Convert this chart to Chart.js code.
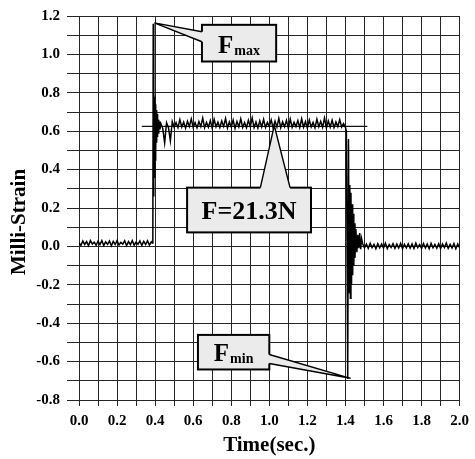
<!DOCTYPE html>
<html><head><meta charset="utf-8">
<script src="https://cdn.jsdelivr.net/npm/chart.js@4/dist/chart.umd.min.js"></script>
<style>html,body{margin:0;padding:0;background:#fff;}#wrap{width:475px;height:459px;}</style>
</head><body><div id="wrap"><canvas id="c" width="475" height="459"></canvas></div>
<script>
// ---- data ----
const xTickLabels = ['0.0','0.2','0.4','0.6','0.8','1.0','1.2','1.4','1.6','1.8','2.0'];
const yTickLabels = ['-0.8','-0.6','-0.4','-0.2','0.0','0.2','0.4','0.6','0.8','1.0','1.2'];

const baseTime = [0.00,0.01,0.02,0.03,0.04,0.05,0.06,0.07,0.08,0.09,0.10,0.11,0.12,0.13,0.14,0.15,0.16,0.17,0.18,0.19,0.20,0.21,0.22,0.23,0.24,0.25,0.26,0.27,0.28,0.29,0.30,0.31,0.32,0.33,0.34,0.35,0.36,0.37,0.38];
const baseStrain = [0.02,0.005,0.028,0.01,0.025,0.004,0.03,0.012,0.022,0.006,0.027,0.009,0.03,0.005,0.024,0.011,0.028,0.003,0.026,0.01,0.03,0.007,0.021,0.012,0.029,0.004,0.025,0.009,0.03,0.006,0.023,0.011,0.028,0.005,0.026,0.01,0.029,0.007,0.024];

const riseTime = [0.385,0.388,0.390,0.392,0.394,0.396,0.398,0.400,0.402,0.404,0.406,0.408,0.410,0.412,0.414,0.416,0.418,0.420,0.422,0.425];
const riseStrain = [0.018,0.02,1.16,0.26,0.82,0.36,0.78,0.45,0.74,0.50,0.71,0.54,0.69,0.57,0.67,0.59,0.66,0.60,0.65,0.61];

const plateauTime = [0.43,0.44,0.45,0.46,0.47,0.48,0.49,0.50,0.51,0.52,0.53,0.54,0.55,0.56,0.57,0.58,0.59,0.60,0.61,0.62,0.63,0.64,0.65,0.66,0.67,0.68,0.69,0.70,0.71,0.72,0.73,0.74,0.75,0.76,0.77,0.78,0.79,0.80,0.81,0.82,0.83,0.84,0.85,0.86,0.87,0.88,0.89,0.90,0.91,0.92,0.93,0.94,0.95,0.96,0.97,0.98,0.99,1.00,1.01,1.02,1.03,1.04,1.05,1.06,1.07,1.08,1.09,1.10,1.11,1.12,1.13,1.14,1.15,1.16,1.17,1.18,1.19,1.20,1.21,1.22,1.23,1.24,1.25,1.26,1.27,1.28,1.29,1.30,1.31,1.32,1.33,1.34,1.35,1.36,1.37,1.38];
const plateauStrain = [0.64,0.615,0.54,0.645,0.62,0.55,0.65,0.62,0.645,0.618,
0.66,0.622,0.648,0.615,0.652,0.625,0.664,0.62,0.645,0.617,
0.65,0.624,0.668,0.618,0.646,0.621,0.655,0.616,0.662,0.623,
0.647,0.619,0.653,0.625,0.666,0.617,0.649,0.622,0.658,0.615,
0.651,0.623,0.664,0.62,0.645,0.618,0.657,0.624,0.669,0.619,
0.648,0.616,0.654,0.622,0.661,0.62,0.646,0.625,0.659,0.617,
0.652,0.621,0.667,0.618,0.649,0.623,0.656,0.615,0.663,0.62,
0.647,0.624,0.655,0.619,0.665,0.621,0.65,0.616,0.658,0.622,
0.646,0.618,0.662,0.623,0.651,0.62,0.668,0.617,0.653,0.621,
0.657,0.619,0.648,0.624,0.66,0.622];

const fallTime = [1.39,1.40,1.405,1.412,1.416,1.420,1.423,1.426,1.429,1.432,1.435,1.438,1.441,1.444,1.447,1.450,1.455,1.460,1.465,1.470,1.475,1.480,1.485];
const fallStrain = [0.64,0.62,0.60,-0.69,0.56,-0.24,0.32,-0.27,0.28,-0.20,0.22,-0.15,0.17,-0.10,0.12,-0.06,0.09,-0.03,0.06,-0.01,0.07,-0.015,0.04];

const tailTime = [1.49,1.50,1.51,1.52,1.53,1.54,1.55,1.56,1.57,1.58,1.59,1.60,1.61,1.62,1.63,1.64,1.65,1.66,1.67,1.68,1.69,1.70,1.71,1.72,1.73,1.74,1.75,1.76,1.77,1.78,1.79,1.80,1.81,1.82,1.83,1.84,1.85,1.86,1.87,1.88,1.89,1.90,1.91,1.92,1.93,1.94,1.95,1.96,1.97,1.98,1.99,2.00];
const tailStrain = [0.015,-0.008,0.012,-0.01,0.016,-0.006,0.011,-0.012,0.014,-0.007,
0.013,-0.009,0.017,-0.011,0.01,-0.006,0.015,-0.01,0.012,-0.008,
0.016,-0.012,0.011,-0.007,0.014,-0.009,0.013,-0.011,0.017,-0.006,
0.01,-0.01,0.015,-0.008,0.012,-0.012,0.016,-0.007,0.011,-0.009,
0.014,-0.011,0.013,-0.006,0.017,-0.01,0.01,-0.008,0.015,-0.012,
0.012,-0.007];

const meanTime = [0.33, 1.515];
const meanStrain = [0.625, 0.625];

// callout anchor points (data units)
const fmaxPoint = [0.396, 1.164];
const fmeanPoint = [1.026, 0.629];
const fminPoint = [1.427, -0.687];

// ---- build ----
function pts(t, v){ return t.map((x,i)=>({x:x, y:v[i]})); }
const signal = [].concat(pts(baseTime,baseStrain), pts(riseTime,riseStrain), pts(plateauTime,plateauStrain), pts(fallTime,fallStrain), pts(tailTime,tailStrain));
const meanLine = pts(meanTime, meanStrain);

const SERIF = '"Liberation Serif","Times New Roman",Times,serif';
const GRID = '#262626';
const BOXFILL = '#ebebeb';

const callouts = [
  {main:'F', sub:'max', mainSize:25, box:[0.646,1.036,1.154,0.963], tip:fmaxPoint, side:'left', base:[1.118,1.066], dy:9.5},
  {main:'F=21.3N', sub:'', mainSize:26, box:[0.568,1.219,0.306,0.073], tip:fmeanPoint, side:'top', base:[0.953,1.109], dy:9},
  {main:'F', sub:'min', mainSize:25, box:[0.625,1.0,-0.461,-0.641], tip:fminPoint, side:'right', base:[-0.563,-0.610], dy:8.5}
];

const calloutPlugin = {
  id:'callouts',
  afterDatasetsDraw(chart){
    const ctx = chart.ctx, xs = chart.scales.x, ys = chart.scales.y;
    for (const c of callouts){
      const L = xs.getPixelForValue(c.box[0]), R = xs.getPixelForValue(c.box[1]);
      const T = ys.getPixelForValue(c.box[2]), B = ys.getPixelForValue(c.box[3]);
      const tx = xs.getPixelForValue(c.tip[0]), ty = ys.getPixelForValue(c.tip[1]);
      let b1, b2, in1, in2;
      if (c.side==='left'){ b1=[L, ys.getPixelForValue(c.base[0])]; b2=[L, ys.getPixelForValue(c.base[1])]; in1=[b1[0]+3,b1[1]]; in2=[b2[0]+3,b2[1]]; }
      else if (c.side==='right'){ b1=[R, ys.getPixelForValue(c.base[0])]; b2=[R, ys.getPixelForValue(c.base[1])]; in1=[b1[0]-3,b1[1]]; in2=[b2[0]-3,b2[1]]; }
      else { b1=[xs.getPixelForValue(c.base[0]), T]; b2=[xs.getPixelForValue(c.base[1]), T]; in1=[b1[0],b1[1]+3]; in2=[b2[0],b2[1]+3]; }
      ctx.save();
      ctx.fillStyle = BOXFILL;
      ctx.strokeStyle = '#000';
      ctx.lineWidth = 2;
      ctx.fillRect(L,T,R-L,B-T);
      ctx.strokeRect(L,T,R-L,B-T);
      ctx.beginPath();
      ctx.moveTo(in1[0],in1[1]); ctx.lineTo(b1[0],b1[1]); ctx.lineTo(tx,ty); ctx.lineTo(b2[0],b2[1]); ctx.lineTo(in2[0],in2[1]); ctx.closePath();
      ctx.fill();
      ctx.beginPath();
      ctx.moveTo(b1[0],b1[1]); ctx.lineTo(tx,ty); ctx.lineTo(b2[0],b2[1]);
      ctx.lineWidth = 1.4; ctx.stroke();
      ctx.fillStyle = '#000';
      ctx.textBaseline = 'alphabetic'; ctx.textAlign = 'left';
      const mf = 'bold '+c.mainSize+'px '+SERIF, sf = 'bold 14px '+SERIF;
      ctx.font = mf; const wm = ctx.measureText(c.main).width;
      ctx.font = sf; const ws = c.sub ? ctx.measureText(c.sub).width + 1 : 0;
      const cx = (L+R)/2, cy = (T+B)/2;
      const x0 = cx - (wm+ws)/2;
      ctx.font = mf; ctx.fillText(c.main, x0, cy + c.dy);
      if (c.sub){ ctx.font = sf; ctx.fillText(c.sub, x0 + wm + 1, cy + c.dy + 2); }
      ctx.restore();
    }
    // y-axis title
    const ca = chart.chartArea;
    ctx.save();
    ctx.translate(20, (ca.top+ca.bottom)/2 + 14);
    ctx.rotate(-Math.PI/2);
    ctx.font = 'bold 21px '+SERIF;
    ctx.fillStyle = '#000';
    ctx.textAlign = 'center'; ctx.textBaseline = 'middle';
    ctx.fillText('Milli-Strain', 0, 0);
    ctx.restore();
  }
};

new Chart(document.getElementById('c'), {
  type:'line',
  data:{ datasets:[
    {label:'Strain', data:signal, borderColor:'#000', borderWidth:1.5, pointRadius:0, tension:0, fill:false},
    {label:'Mean', data:meanLine, borderColor:'#111', borderWidth:1.4, pointRadius:0, tension:0, fill:false}
  ]},
  options:{
    responsive:false, animation:false, devicePixelRatio:1,
    layout:{padding:{left:0,right:12,top:11,bottom:0}},
    plugins:{legend:{display:false}, tooltip:{enabled:false}},
    scales:{
      x:{type:'linear', min:0, max:2.0,
         grid:{color:GRID, lineWidth:1, tickLength:6, tickColor:GRID},
         border:{color:GRID},
         ticks:{stepSize:0.1, autoSkip:false, maxRotation:0, padding:6, color:'#000',
           font:{family:SERIF, size:15, weight:'bold'},
           callback:(v)=>{const k=Math.round(v*10); return k%2===0 ? xTickLabels[k/2] : '';}},
         title:{display:true, text:'Time(sec.)', color:'#000', font:{family:SERIF, size:21, weight:'bold'}, padding:{top:0,bottom:1}},
         afterFit:(s)=>{s.height=59;}
      },
      y:{type:'linear', min:-0.8, max:1.2,
         grid:{color:GRID, lineWidth:1, tickLength:12, tickColor:GRID},
         border:{color:GRID},
         ticks:{stepSize:0.1, autoSkip:false, padding:7, color:'#000',
           font:{family:SERIF, size:15, weight:'bold'},
           callback:(v)=>{const k=Math.round(v*10)+8; return k%2===0 ? yTickLabels[k/2] : '';}},
         title:{display:false},
         afterFit:(s)=>{s.width=79;}
      }
    }
  },
  plugins:[calloutPlugin]
});
</script></body></html>
